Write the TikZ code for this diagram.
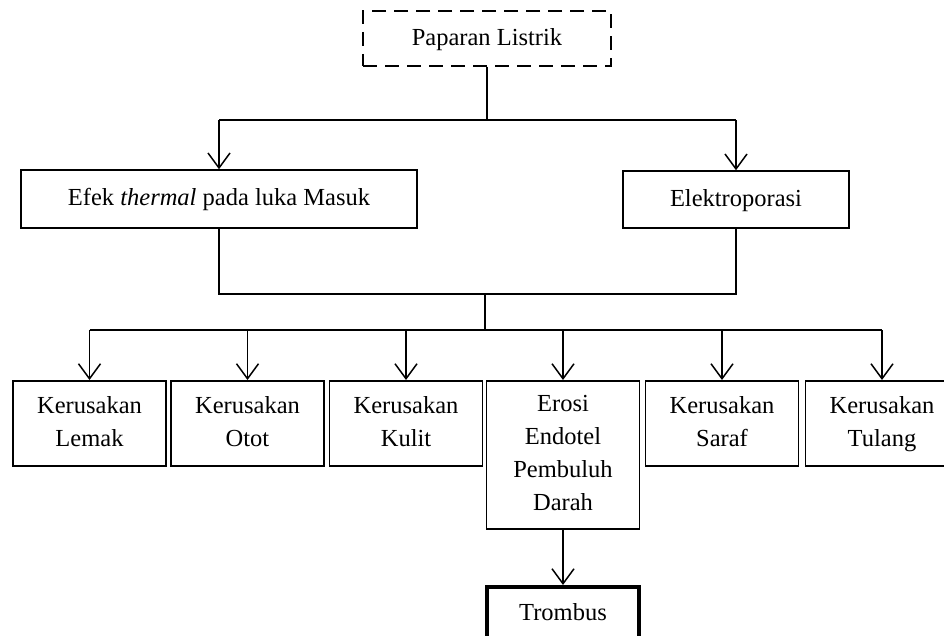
\documentclass[tikz,border=0pt]{standalone}
\usepackage{fontspec}
\setmainfont{Liberation Serif}
\usetikzlibrary{arrows.meta}
\begin{document}
\begin{tikzpicture}[x=1pt,y=-1pt,
  box/.style={draw, line width=1.5pt, inner sep=0pt, align=center,
    font=\fontsize{24.5}{33}\selectfont},
  small/.style={box, minimum width=153pt, minimum height=85pt, anchor=north},
  arr/.style={-{Straight Barb[length=15pt,width=22pt]}, line width=1.5pt},
  ln/.style={line width=1.5pt}]
\useasboundingbox (0,0) rectangle (944,636);
\clip (0,0) rectangle (944,636);
\fill[white] (0,0) rectangle (944,636);

\node[box, dash pattern=on 14pt off 8pt, minimum width=248pt, minimum height=55pt] (top) at (487,38.5) {Paparan Listrik\strut};
\node[box, minimum width=396pt, minimum height=58pt] (efek) at (219,199) {Efek \textit{thermal} pada luka Masuk\strut};
\node[box, minimum width=226pt, minimum height=57pt] (elek) at (736,199.5) {Elektroporasi\strut};

\node[small] (b1) at (89.5,380) {\strut Kerusakan\\Lemak\strut};
\node[small] (b2) at (247.5,380) {\strut Kerusakan\\Otot\strut};
\node[small] (b3) at (406,380) {\strut Kerusakan\\Kulit\strut};
\node[small, minimum height=148pt] (b4) at (563,380) {\strut Erosi\\Endotel\\Pembuluh\\Darah\strut};
\node[small] (b5) at (722,380) {\strut Kerusakan\\Saraf\strut};
\node[small] (b6) at (882,380) {\strut Kerusakan\\Tulang\strut};
\node[box, line width=4pt, minimum width=152pt, minimum height=54pt, anchor=north] (trom) at (563,585) {Trombus\strut};

\coordinate (h1) at (485,120);
\coordinate (h2) at (485,294);
\coordinate (h3) at (485,330);

\draw[ln] (top.south) -- (top.south |- h1);
\draw[ln] (efek.north |- h1) -- (elek.north |- h1);
\draw[arr] (efek.north |- h1) -- (efek.north);
\draw[arr] (elek.north |- h1) -- (elek.north);

\draw[ln] (efek.south) -- (efek.south |- h2) -- (elek.south |- h2) -- (elek.south);
\draw[ln] (h2) -- (h3);
\draw[ln] (b1.north |- h3) -- (b6.north |- h3);
\foreach \b in {b1,b2,b3,b4,b5,b6}{
  \draw[arr] (\b.north |- h3) -- (\b.north);
}
\draw[arr] (b4.south) -- (trom.north);
\end{tikzpicture}
\end{document}
